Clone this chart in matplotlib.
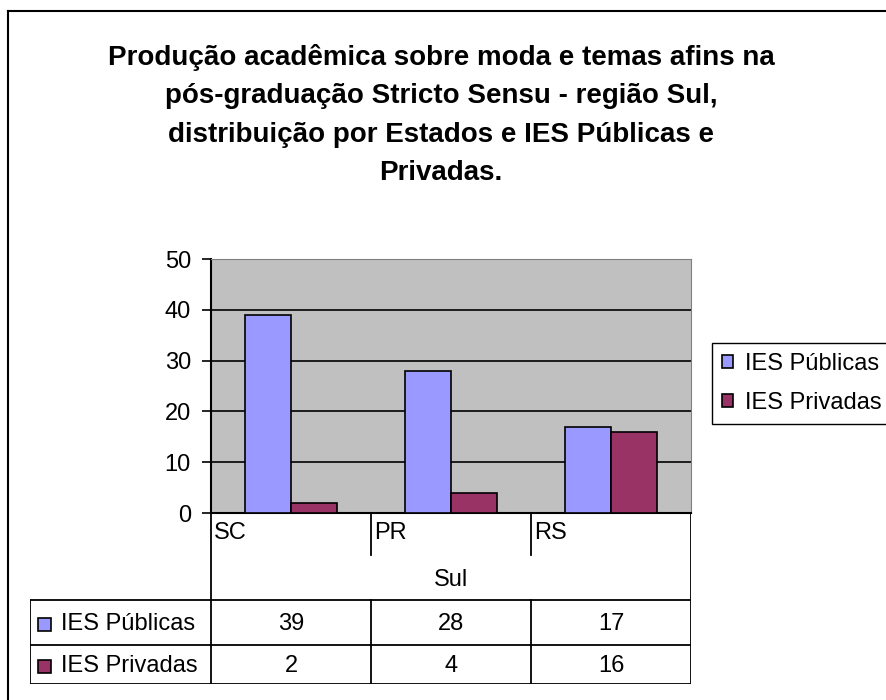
import numpy as np
import matplotlib
matplotlib.use('Agg')
import matplotlib.pyplot as plt
from matplotlib.patches import Rectangle
from matplotlib.lines import Line2D

plt.rcParams['font.family'] = ['Liberation Sans', 'DejaVu Sans']

# dados
estados = ['SC', 'PR', 'RS']
regiao = 'Sul'
series = ['IES Públicas', 'IES Privadas']
publicas = [39, 28, 17]
privadas = [2, 4, 16]
cores = ['#9999FF', '#993366']
titulo = ('Produção acadêmica sobre moda e temas afins na\n'
          'pós-graduação Stricto Sensu - região Sul,\n'
          'distribuição por Estados e IES Públicas e\n'
          'Privadas.')

W, H = 886, 700
fs = 17

fig = plt.figure(figsize=(W / 100, H / 100), dpi=100)

# moldura externa (so esquerda e topo aparecem)
fig.add_artist(Line2D([8 / W, 8 / W], [0, 1 - 11 / H], color='black', lw=1.5))
fig.add_artist(Line2D([8 / W, 1], [1 - 11 / H, 1 - 11 / H], color='black', lw=1.5))

# va='baseline' alinha a ultima linha
fig.text(441 / W, 1 - 180 / H, titulo, ha='center', va='baseline',
         fontsize=20, fontweight='bold', linespacing=1.62)

# area do grafico
px_l, px_r, px_t, px_b = 211, 691, 259, 513
ax = fig.add_axes([px_l / W, 1 - px_b / H, (px_r - px_l) / W, (px_b - px_t) / H])
ax.set_facecolor('#C0C0C0')

x = np.arange(len(estados))
w = 1 / 3.5
ax.bar(x - w / 2, publicas, w, color=cores[0], edgecolor='black', lw=1.2, label=series[0], zorder=3)
ax.bar(x + w / 2, privadas, w, color=cores[1], edgecolor='black', lw=1.2, label=series[1], zorder=3)

ax.set_xlim(-0.5, 2.5)
ax.set_ylim(0, 50)
ax.set_yticks(range(0, 51, 10))
ax.set_xticks([])
ax.tick_params(axis='y', labelsize=fs, length=6.5, width=1.2, pad=8)
for yv in range(10, 50, 10):
    ax.axhline(yv, color='black', lw=1.2, zorder=1)
ax.spines['left'].set_linewidth(1.5)
ax.spines['bottom'].set_linewidth(1.5)
ax.spines['top'].set_color('#808080')
ax.spines['right'].set_color('#808080')

# legenda
fig.legend(loc='upper left', bbox_to_anchor=(712 / W, 1 - 343 / H), fontsize=fs,
           frameon=True, fancybox=False, edgecolor='black', framealpha=1,
           handlelength=0.47, handleheight=0.47, handletextpad=0.5,
           labelspacing=0.72, borderpad=0.42, borderaxespad=0)

# tabela de dados
tb_t, tb_b, hdr_l = 513, 684, 30
tab = fig.add_axes([hdr_l / W, 1 - tb_b / H, (px_r - hdr_l) / W, (tb_b - tb_t) / H])
xl = -0.5 - (px_l - hdr_l) / 160
tab.set_xlim(xl, 2.5)
tab.set_ylim(tb_b - tb_t, 0)
tab.axis('off')
r1, r2, r3, r4 = 44, 87, 132, 171
lk = dict(color='black', lw=1.3, solid_capstyle='projecting')
tab.plot([-0.5, -0.5], [0, r4], **lk)
tab.plot([2.5, 2.5], [0, r4], **lk)
tab.plot([xl, 2.5], [r2, r2], **lk)
tab.plot([xl, 2.5], [r3, r3], **lk)
tab.plot([xl, 2.5], [r4, r4], **lk)
tab.plot([xl, xl], [r2, r4], **lk)
for i in range(1, len(estados)):
    tab.plot([i - 0.5, i - 0.5], [0, 42], **lk)
    tab.plot([i - 0.5, i - 0.5], [r2, r4], **lk)
for i, e in enumerate(estados):
    tab.text(i - 0.5 + 0.02, 9, e, ha='left', va='top', fontsize=fs)
tab.text(1, (r1 + r2) / 2 + 2, regiao, ha='center', va='center', fontsize=fs)
for j, (nome, vals) in enumerate(zip(series, [publicas, privadas])):
    yc = (r2 + r3) / 2 + 1 if j == 0 else (r3 + r4) / 2 + 1
    tab.add_patch(Rectangle((xl + 8 / 160, yc - 6), 13 / 160, 13, facecolor=cores[j],
                            edgecolor='black', lw=1.2))
    tab.text(xl + 31 / 160, yc, nome, ha='left', va='center', fontsize=fs)
    for i, v in enumerate(vals):
        tab.text(i, yc, str(v), ha='center', va='center', fontsize=fs)

fig.savefig('out.png', dpi=100)
